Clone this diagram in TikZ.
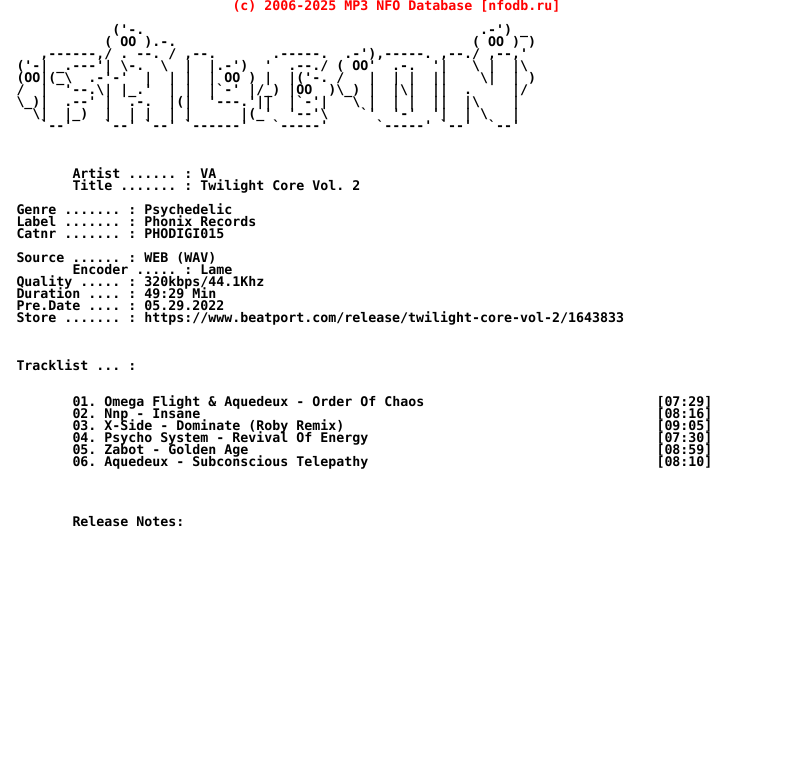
\documentclass[tikz,border=0pt]{standalone}
\usepackage{fontspec}
\setmonofont{DejaVu Sans Mono}
\newcommand{\bs}{\textbackslash}
\tikzset{
  nfoline/.style={anchor=base west,inner sep=0pt,outer sep=0pt,font=\fontsize{13.28}{12}\selectfont\ttfamily\bfseries},
  nfotitle/.style={nfoline,text=red}
}
\begin{document}
\begin{tikzpicture}[x=1pt,y=-1pt]
\useasboundingbox (0,0) rectangle (792,780);
\node[nfotitle] (banner) at (232.5,10) {(c) 2006-2025 MP3 NFO Database [nfodb.ru]};
\node[nfoline] (art2) at (16.5,34) {~~~~~~~~~~~~('-.~~~~~~~~~~~~~~~~~~~~~~~~~~~~~~~~~~~~~~~~~~.-')~\_};
\node[nfoline] (art3) at (16.5,46) {~~~~~~~~~~~(~OO~).-.~~~~~~~~~~~~~~~~~~~~~~~~~~~~~~~~~~~~~(~OO~)~)};
\node[nfoline] (art4) at (16.5,58) {~~~,------,/~.~--.~/~,--.~~~~~~~.-----.~~.-'),-----.~,--./~,--,'};
\node[nfoline] (art5) at (16.5,70) {('-|~\_.---'|~\bs-.~~\bs~~|~~|.-')~~'~~.--./~(~OO'~~.-.~~'|~~~\bs~|~~|\bs};
\node[nfoline] (art6) at (16.5,82) {(OO|(\_\bs~~.-'-'~~|~~|~|~~|~OO~)~|~~|('-.~/~~~|~~|~|~~||~~~~\bs|~~|~)};
\node[nfoline] (art7) at (16.5,94) {/~~|~~'--.\bs|~|\_.'~~|~|~~|`-'~|/\_)~|OO~~)\bs\_)~|~~|\bs|~~||~~.~~~~~|/};
\node[nfoline] (art8) at (16.5,106) {\bs\_)|~~.--'~|~~.-.~~|(|~~'---.'||~~|`-'|~~~\bs~|~~|~|~~||~~|\bs~~~~|};
\node[nfoline] (art9) at (16.5,118) {~~\bs|~~|\_)~~|~~|~|~~|~|~~~~~~|(\_'~~'--'\bs~~~~`'~~'-'~~'|~~|~\bs~~~|};
\node[nfoline] (art10) at (16.5,130) {~~~`--'~~~~`--'~`--'~`------'~~~`-----'~~~~~~`-----'~`--'~~`--'};
\node[nfoline] (artist) at (72.5,178) {Artist ...... : VA};
\node[nfoline] (title) at (72.5,190) {Title ....... : Twilight Core Vol. 2};
\node[nfoline] (genre) at (16.5,214) {Genre ....... : Psychedelic};
\node[nfoline] (label) at (16.5,226) {Label ....... : Phonix Records};
\node[nfoline] (catnr) at (16.5,238) {Catnr ....... : PHODIGI015};
\node[nfoline] (source) at (16.5,262) {Source ...... : WEB (WAV)};
\node[nfoline] (encoder) at (72.5,274) {Encoder ..... : Lame};
\node[nfoline] (quality) at (16.5,286) {Quality ..... : 320kbps/44.1Khz};
\node[nfoline] (duration) at (16.5,298) {Duration .... : 49:29 Min};
\node[nfoline] (predate) at (16.5,310) {Pre.Date .... : 05.29.2022};
\node[nfoline] (store) at (16.5,322) {Store ....... : https://www.beatport.com/release/twilight-core-vol-2/1643833};
\node[nfoline] (tracklist) at (16.5,370) {Tracklist ... :};
\node[nfoline] (track1) at (72.5,406) {01. Omega Flight \& Aquedeux - Order Of Chaos};
\node[nfoline] (time1) at (656.5,406) {[07:29]};
\node[nfoline] (track2) at (72.5,418) {02. Nnp - Insane};
\node[nfoline] (time2) at (656.5,418) {[08:16]};
\node[nfoline] (track3) at (72.5,430) {03. X-Side - Dominate (Roby Remix)};
\node[nfoline] (time3) at (656.5,430) {[09:05]};
\node[nfoline] (track4) at (72.5,442) {04. Psycho System - Revival Of Energy};
\node[nfoline] (time4) at (656.5,442) {[07:30]};
\node[nfoline] (track5) at (72.5,454) {05. Zabot - Golden Age};
\node[nfoline] (time5) at (656.5,454) {[08:59]};
\node[nfoline] (track6) at (72.5,466) {06. Aquedeux - Subconscious Telepathy};
\node[nfoline] (time6) at (656.5,466) {[08:10]};
\node[nfoline] (notes) at (72.5,526) {Release Notes:};
\end{tikzpicture}
\end{document}
